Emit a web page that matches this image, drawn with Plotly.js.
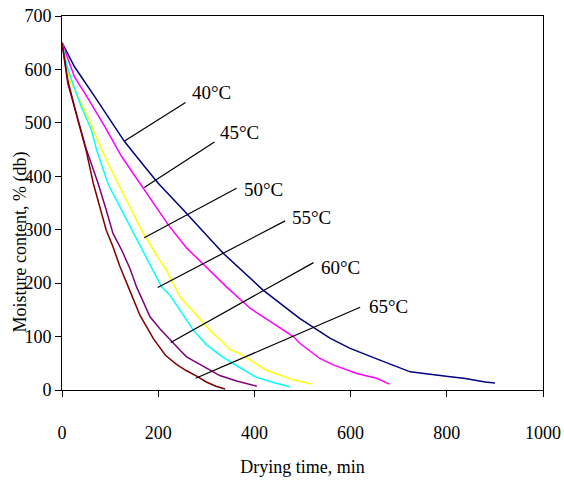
<!DOCTYPE html>
<html>
<head>
<meta charset="utf-8">
<script src="https://cdn.plot.ly/plotly-3.0.1.min.js"></script>
<style>body{margin:0;padding:0;background:#fff;}</style>
</head>
<body>
<div id="chart" style="width:564px;height:484px;"></div>
<script>
// Drying curves (time in min, moisture % db)
const t40 = [0,26,68,96,130,172,200,249,300,335,418,494,557,599,661,724,807,835,880,900];
const m40 = [650,605,549,511,465,418,387,340,290,256,187,134,97,78,56,34,25,22,15,13];
const t45 = [0,26,54,89,124,169,200,221,259,301,342,391,439,481,495,536,564,613,654,681];
const m45 = [650,586,546,493,437,377,337,309,266,229,193,153,125,100,87,59,47,31,22,11];
const t50 = [0,16,33,54,80,96,120,141,169,203,217,245,280,314,328,349,370,425,481,519];
const m50 = [650,580,549,511,456,424,380,343,293,243,225,175,140,106,95,76,68,37,19,11];
const t55 = [0,9,20,40,61,72,96,127,155,186,207,224,245,273,300,332,366,401,439,474];
const m55 = [650,611,580,530,487,449,385,331,284,228,193,178,150,112,85,63,44,25,14,6];
const t60 = [0,12,50,75,92,106,124,141,155,183,203,224,245,259,293,328,363,405];
const m60 = [650,574,452,387,337,293,262,228,193,137,115,94,75,62,44,27,17,7];
const t65 = [0,12,33,50,65,79,92,106,120,141,162,190,215,238,259,280,300,320,339];
const m65 = [650,580,505,449,387,343,299,268,232,186,140,96,65,48,36,26,15,7,2];

const seriesNames = ['40°C','45°C','50°C','55°C','60°C','65°C'];
const seriesX = [t40,t45,t50,t55,t60,t65];
const seriesY = [m40,m45,m50,m55,m60,m65];
const colors = ['#000080','#FF00FF','#FFFF00','#00FFFF','#800080','#800000'];

// Label callouts: pointer on curve, line tail, text centre (data units)
const ptrX = [130,171,171,199,226,278];
const ptrY = [466,379,285,192,89,22];
const tailX = [260,320,366,467,526,623];
const tailY = [540,466,379,318,240,156];
const txtX = [311,370,418,518,578,678];
const txtY = [557,482,376,323,229,156];

const xTicks = [0,200,400,600,800,1000];
const yTicks = [0,100,200,300,400,500,600,700];

const traces = seriesNames.map((n,i)=>({
  x: seriesX[i], y: seriesY[i], name: n, type:'scatter', mode:'lines',
  line:{color:colors[i], width:1.5}
}));

const font = 'Liberation Serif, Times New Roman, serif';
const annotations = [];
seriesNames.forEach((n,i)=>{
  annotations.push({x:ptrX[i], y:ptrY[i], ax:tailX[i], ay:tailY[i], axref:'x', ayref:'y',
    xref:'x', yref:'y', text:'', showarrow:true, arrowhead:0, arrowwidth:1.2, arrowcolor:'#000', standoff:0, startstandoff:0});
  annotations.push({x:txtX[i], y:txtY[i], xref:'x', yref:'y', text:n, showarrow:false,
    font:{family:font, size:19, color:'#000'}, xanchor:'center', yanchor:'middle'});
});
annotations.push({x:-0.087, y:0.395, xref:'paper', yref:'paper', text:'Moisture content, % (db)',
  textangle:-90, showarrow:false, font:{family:font, size:18, color:'#000'}, xanchor:'center', yanchor:'middle'});

const layout = {
  width:564, height:484,
  margin:{l:62, r:21, t:16, b:94},
  paper_bgcolor:'#fff', plot_bgcolor:'#fff',
  showlegend:false,
  font:{family:font, color:'#000'},
  xaxis:{range:[0,1000], tickvals:xTicks, ticktext:xTicks.map(String), showgrid:false, zeroline:false,
    showline:true, linecolor:'#000', linewidth:1, mirror:true, ticks:'outside', ticklen:6, tickcolor:'#000',
    ticklabelstandoff:20, tickfont:{family:font, size:18, color:'#000'},
    title:{text:'Drying time, min', font:{family:font, size:18, color:'#000'}, standoff:18}},
  yaxis:{range:[0,700], tickvals:yTicks, ticktext:yTicks.map(String), showgrid:false, zeroline:false,
    showline:true, linecolor:'#000', linewidth:1, mirror:true, ticks:'outside', ticklen:6, tickcolor:'#000',
    tickfont:{family:font, size:18, color:'#000'}},
  annotations: annotations
};
Plotly.newPlot('chart', traces, layout, {displayModeBar:false, staticPlot:true});
</script>
</body>
</html>
